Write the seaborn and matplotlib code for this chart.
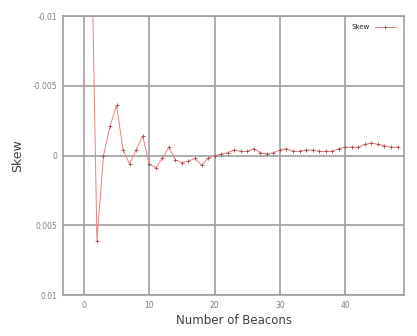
import numpy as np
import pandas as pd
import matplotlib
matplotlib.use("Agg")
import matplotlib.pyplot as plt
import seaborn as sns

# beacon counts and skew values
beacons = list(range(1, 49))
skew = [-0.0200, 0.0061, 0.0000, -0.0021, -0.0036, -0.0004, 0.0006, -0.0004,
        -0.0014, 0.0006, 0.0009, 0.0002, -0.0006, 0.0003, 0.0005, 0.0004,
        0.0002, 0.0007, 0.0002, 0.0000, -0.0001, -0.0002, -0.0004, -0.0003,
        -0.0003, -0.0005, -0.0002, -0.0001, -0.0002, -0.0004, -0.0005, -0.0003,
        -0.0003, -0.0004, -0.0004, -0.0003, -0.0003, -0.0003, -0.0005, -0.0006,
        -0.0006, -0.0006, -0.0008, -0.0009, -0.0008, -0.0007, -0.0006, -0.0006]
x_ticks = [0, 10, 20, 30, 40]
y_ticks = [-0.01, -0.005, 0, 0.005, 0.01]
y_tick_labels = ["-0.01", "-0.005", "0", "0.005", "0.01"]

df = pd.DataFrame({"beacons": beacons, "skew": skew})

sns.set_style("white")
fig = plt.figure(figsize=(4.17, 3.36), dpi=100)
ax = fig.add_axes([0.151, 0.122, 0.818, 0.830])

sns.lineplot(data=df, x="beacons", y="skew", ax=ax, color="#e88080",
             linewidth=0.7, marker="+", markersize=3, markeredgecolor="#a05050",
             markeredgewidth=0.6, label="Skew")

ax.set_xlim(-3.2, 49)
ax.set_ylim(0.01, -0.01)
ax.set_xticks(x_ticks)
ax.set_yticks(y_ticks)
ax.set_yticklabels(y_tick_labels)
ax.grid(True, color="#a0a0a0", linewidth=1.2)
ax.set_axisbelow(True)
for s in ax.spines.values():
    s.set_color("#a0a0a0")
    s.set_linewidth(1.2)
ax.tick_params(labelsize=5.5, colors="#808080", length=0, pad=4)
ax.set_xlabel("Number of Beacons", fontsize=8.5, color="#404040", labelpad=3)
ax.set_ylabel("Skew", fontsize=9, color="#404040", labelpad=6)

leg = ax.legend(loc="upper right", fontsize=5, frameon=False,
                handlelength=3, markerfirst=False, borderaxespad=0.8)

fig.savefig("out.png", dpi=100)
